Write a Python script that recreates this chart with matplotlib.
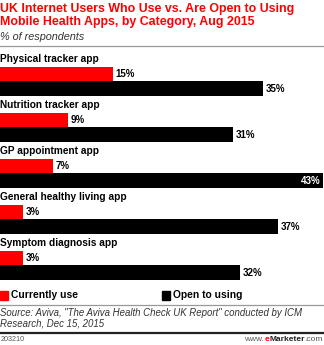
import matplotlib

matplotlib.use("Agg")
import matplotlib.pyplot as plt
from matplotlib.lines import Line2D
from matplotlib.patches import Rectangle

RED = "#ff0000"
BLACK = "#000000"
GREY = "#999999"
W, H = 324, 345

categories = [
    "Physical tracker app",
    "Nutrition tracker app",
    "GP appointment app",
    "General healthy living app",
    "Symptom diagnosis app",
]
currently_use = [15, 9, 7, 3, 3]
open_to_using = [35, 31, 43, 37, 32]

plt.rcParams["font.family"] = ["Liberation Sans", "DejaVu Sans"]


def fx(px):
    return px / W


def fy(py):
    return 1 - py / H


fig = plt.figure(figsize=(W / 100, H / 100), dpi=100)

# title block
fig.text(fx(0), fy(3), "UK Internet Users Who Use vs. Are Open to Using\nMobile Health Apps, by Category, Aug 2015",
         color=RED, fontsize=8.95, fontweight="bold", va="top", ha="left", linespacing=1.08)
fig.text(fx(0), fy(32), "% of respondents", fontsize=7.8, style="italic", color="#333333", va="top")
fig.add_artist(Line2D([0, 1], [fy(45.5)] * 2, transform=fig.transFigure, color=GREY, lw=0.9))

# bars; vertical axis in pixel-like units so the layout follows the reference
ax = fig.add_axes([0, fy(290), 1, (290 - 50) / H])
ax.set_xlim(0, W / 7.5)
ax.set_ylim(290, 50)
ax.axis("off")

pitch = 46
for i, (cat, cu, op) in enumerate(zip(categories, currently_use, open_to_using)):
    top = 67 + i * pitch
    ax.text(0, top - 8, cat, fontsize=7.3, fontweight="bold", va="center", ha="left")
    ax.barh(top + 7, cu, height=14.5, color=RED)
    ax.barh(top + 21.5, op, height=14.5, color=BLACK)
    ax.text(cu + 0.4, top + 7, f"{cu}%", fontsize=7, fontweight="bold", va="center")
    if op > 40:  # no room past the end of the axis, label sits inside
        ax.text(op - 0.3, top + 21.5, f"{op}%", fontsize=7, fontweight="bold",
                va="center", ha="right", color="white")
    else:
        ax.text(op + 0.4, top + 21.5, f"{op}%", fontsize=7, fontweight="bold", va="center")

# legend
fig.add_artist(Rectangle((fx(0), fy(300)), fx(8), 9 / H, transform=fig.transFigure, color=RED))
fig.text(fx(11), fy(295.5), "Currently use", fontsize=7.4, fontweight="bold", va="center")
fig.add_artist(Rectangle((fx(162), fy(300)), fx(8), 9 / H, transform=fig.transFigure, color=BLACK))
fig.text(fx(173), fy(295.5), "Open to using", fontsize=7.4, fontweight="bold", va="center")

fig.add_artist(Line2D([0, 1], [fy(305)] * 2, transform=fig.transFigure, color=GREY, lw=0.9))
fig.text(fx(0), fy(308), "Source: Aviva, \"The Aviva Health Check UK Report\" conducted by ICM\nResearch, Dec 15, 2015",
         fontsize=6.9, style="italic", color="#333333", va="top", linespacing=1.05)
fig.add_artist(Line2D([0, 1], [fy(332.5)] * 2, transform=fig.transFigure, color="#222222", lw=1.6))

# footer: id on the left, www.eMarketer.com chained right-to-left
fig.text(fx(0.5), fy(339.5), "203210", fontsize=5.2, color="#555555", va="center")
com = fig.text(fx(323), fy(339.5), ".com", fontsize=6, color="#555555", va="center", ha="right")
mk = ax.annotate("Marketer", xy=(0, 0), xycoords=com, fontsize=6, fontweight="bold",
                 color="#222222", ha="right", va="bottom", annotation_clip=False)
e = ax.annotate("e", xy=(0, 0), xycoords=mk, fontsize=6, fontweight="bold",
                color=RED, ha="right", va="bottom", annotation_clip=False)
ax.annotate("www.", xy=(0, 0), xycoords=e, fontsize=6, color="#555555",
            ha="right", va="bottom", annotation_clip=False)

fig.savefig("out.png", dpi=100)
